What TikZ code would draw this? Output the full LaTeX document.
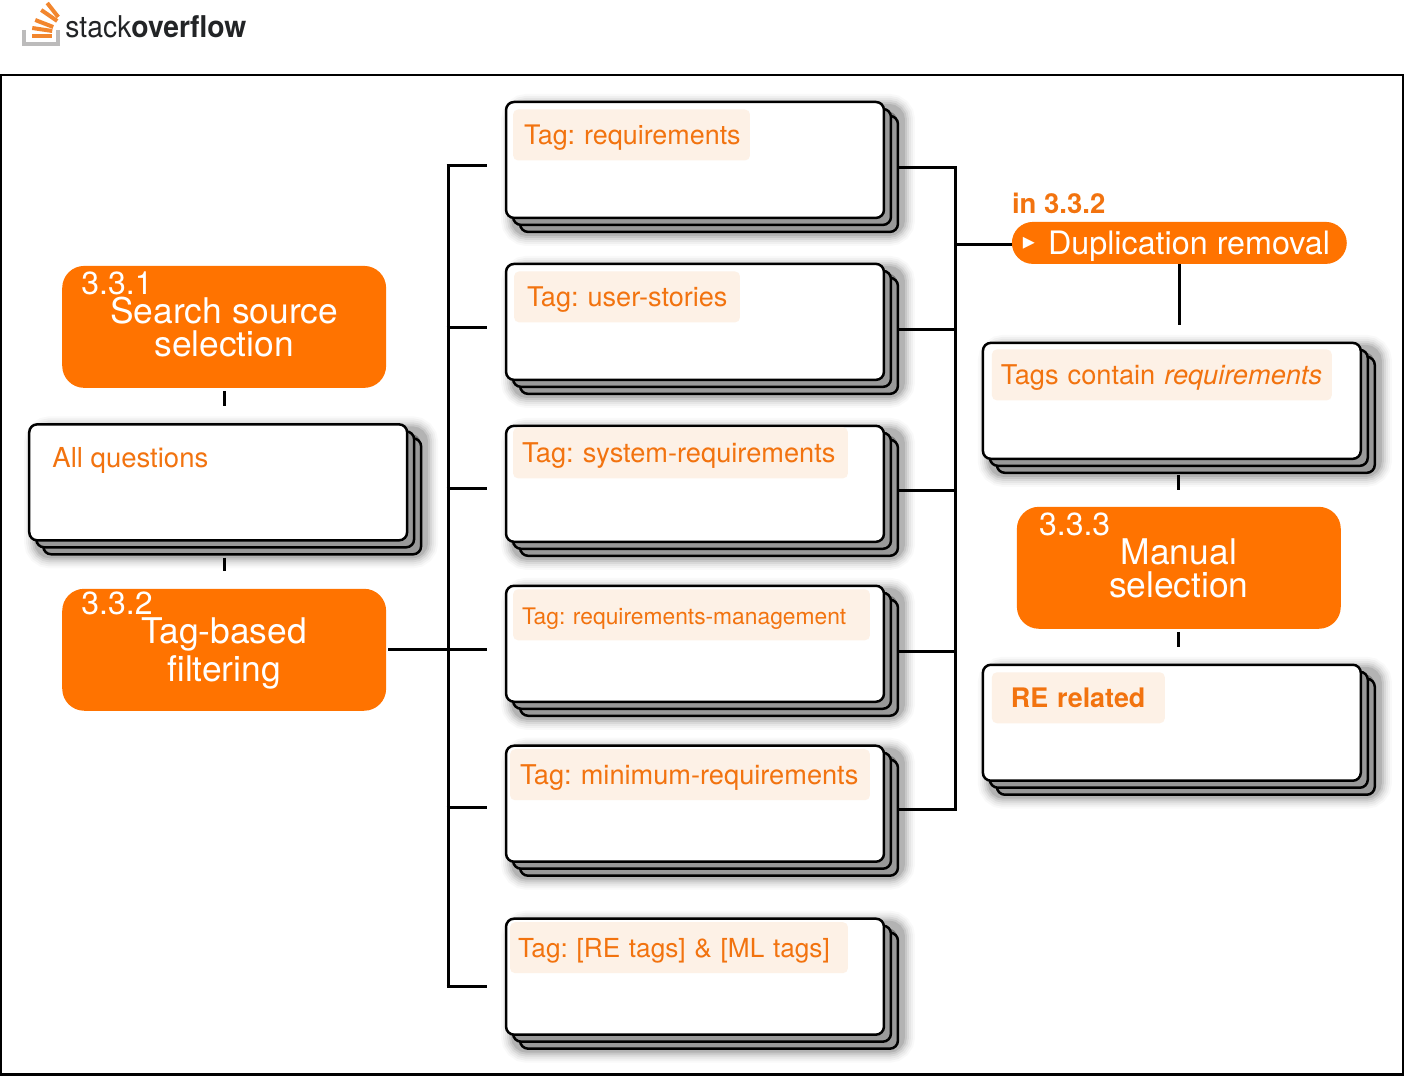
\documentclass[tikz,border=0pt]{standalone}
\usepackage{fontspec}
\setmainfont{TeX Gyre Heros}
\newfontfamily\symfont{DejaVu Sans}
\usetikzlibrary{shadows}
\definecolor{sofill}{HTML}{FF7300}
\definecolor{sotext}{HTML}{F2730F}
\definecolor{sopatch}{HTML}{FDF1E6}
\definecolor{sotray}{HTML}{BCBBBB}
\definecolor{sobar}{HTML}{F2862E}
\definecolor{sodark}{HTML}{222426}

\begin{document}
\frenchspacing
\begin{tikzpicture}[
        x=1pt, y=-1pt,
        link/.style={draw=black, line width=3pt},
        frame/.style={rectangle, draw=black, line width=2.5pt, minimum width=1402pt, minimum height=1000pt, inner sep=0pt},
        haze/.style 2 args={general shadow={fill=black, draw=black, line width=#1, opacity=#2, shadow xshift=13pt, shadow yshift=-10pt}},
        card/.style={rectangle, draw=black, line width=2.5pt, fill=white, rounded corners=8pt, minimum width=378pt, minimum height=116pt, inner sep=0pt,
            haze={36pt}{.025}, haze={32pt}{.035}, haze={28pt}{.045}, haze={24pt}{.06}, haze={20pt}{.08}, haze={16pt}{.1},
            general shadow={fill=black!40, draw=black, line width=2.5pt, shadow xshift=14pt, shadow yshift=-14pt},
            general shadow={fill=black!40, draw=black, line width=2.5pt, shadow xshift=7pt, shadow yshift=-7pt}},
        patch/.style={rectangle, fill=sopatch, rounded corners=5pt, text=sotext, text width=#1, minimum height=51pt, inner xsep=0pt, inner ysep=0pt, align=left, text height=24pt, text depth=4pt, font=\fontsize{27.2}{30}\selectfont},
        phase/.style={rectangle, fill=sofill, rounded corners=22pt, text=white, minimum width=324pt, minimum height=122pt, inner sep=0pt, align=center, text depth=0pt, font=\fontsize{35.4}{33}\selectfont},
        phasenum/.style={text=white, inner sep=0pt, anchor=west, font=\fontsize{32}{32}\selectfont},
        pill/.style={rectangle, fill=sofill, rounded corners=21pt, text=white, minimum width=335pt, minimum height=42pt, inner sep=0pt},
        barline/.style={draw=sobar, line width=4pt}
    ]

    % Outer frame
    \node[frame] (outer) at (702,575) {};

    % Logo
    \draw[draw=sotray, line width=4pt] (24,30) -- (24,44) -- (58,44) -- (58,30);
    \draw[barline] (32,36) -- (52,36);
    \draw[barline] (32,28) -- (52,31);
    \draw[barline] (35,20) -- (53,27);
    \draw[barline] (41,10) -- (57,21);
    \draw[barline] (47,3) -- (58,17);
    \node[inner sep=0pt, anchor=west, text=sodark, xscale=.943, font=\fontsize{30}{30}\selectfont] (logo) at (65,27) {stack\textbf{overflow}};

    % Left column
    \node[phase] (source) at (224,327) {Search source\\selection};
    \node[phasenum] (num331) at (81,283) {3.3.1};
    \node[card] (allq) at (218,482.5) {};
    \node[inner sep=0pt, anchor=west, text=sotext, font=\fontsize{27.5}{30}\selectfont] (allqlbl) at (52,461) {All questions};
    \node[phase] (filter) at (224,650) {Tag-based\\[4pt]filtering};
    \node[phasenum] (num332) at (81,604) {3.3.2};

    % Tag cards
    \node[card] (tagreq) at (695,160) {};
    \node[patch=237pt, font=\fontsize{26.9}{30}\selectfont] (lblreq) at (631.5,135) {\hspace*{11pt}Tag: requirements};
    \node[card] (tagstory) at (695,322) {};
    \node[patch=226pt, font=\fontsize{27.1}{30}\selectfont] (lblstory) at (627,297) {\hspace*{13pt}Tag: user-stories};
    \node[card] (tagsys) at (695,484) {};
    \node[patch=335pt] (lblsys) at (680.5,453) {\hspace*{9pt}Tag: system-requirements};
    \node[card] (tagmgmt) at (695,644) {};
    \node[patch=357pt, font=\fontsize{22.8}{26}\selectfont] (lblmgmt) at (691.5,615) {\hspace*{9pt}Tag: requirements-management};
    \node[card] (tagmin) at (695,804) {};
    \node[patch=360pt] (lblmin) at (690,775) {\hspace*{10pt}Tag: minimum-requirements};
    \node[card] (tagml) at (695,977) {};
    \node[patch=338pt, font=\fontsize{26.2}{30}\selectfont] (lblml) at (679,948) {\hspace*{8pt}Tag: [RE tags] \& [ML tags]};

    % Right column
    \node[pill] (dedup) at (1179.5,243) {};
    \node[text=white, inner sep=0pt, font=\symfont\fontsize{24}{24}\selectfont] (dedupmark) at (1029,243) {▸};
    \node[text=white, inner sep=0pt, anchor=west, font=\fontsize{32.3}{33}\selectfont] (deduplbl) at (1048,246) {Duplication removal};
    \node[inner sep=0pt, anchor=west, text=sotext, font=\bfseries\fontsize{27.5}{30}\selectfont] (in332) at (1012,203) {in 3.3.2};
    \node[card] (contain) at (1172,401) {};
    \node[patch=340pt] (lblcontain) at (1162,375) {\hspace*{9pt}Tags contain \textit{requirements}};
    \node[phase] (manual) at (1179,568) {Manual\\selection};
    \node[phasenum] (num333) at (1039,525) {3.3.3};
    \node[card] (related) at (1172,723) {};
    \node[patch=173pt, font=\bfseries\fontsize{26.9}{30}\selectfont] (lblrelated) at (1078.5,698) {\hspace*{19pt}RE related};

    % Relationships
    \coordinate (busltop) at (448,166);
    \coordinate (buslbot) at (448,987);
    \coordinate (busrtop) at (956,168);
    \coordinate (busrbot) at (956,810);
    \draw[link] (busltop) -- (buslbot);
    \draw[link] (busrtop) -- (busrbot);
    \draw[link, shorten <=2pt, shorten >=18pt] (filter.east) -- (tagmgmt.west |- filter.east);
    \foreach \name/\dy in {tagreq/6, tagstory/6, tagsys/5, tagmin/4, tagml/10}
        \draw[link, shorten >=18pt, shorten <=-1.5pt] ([yshift=-\dy pt]\name.west -| busltop) -- ([yshift=-\dy pt]\name.west);
    \foreach \name/\dy in {tagreq/8, tagstory/8, tagsys/7, tagmgmt/8, tagmin/6}
        \draw[link, shorten <=13pt, shorten >=-1.5pt] ([yshift=-\dy pt]\name.east) -- ([yshift=-\dy pt]\name.east -| busrtop);
    \draw[link] ([yshift=-2pt]dedup.west -| busrtop) -- ([yshift=-2pt]dedup.west);
    \draw[link, shorten <=3pt, shorten >=17pt] (source.south) -- (source.south |- allq.north);
    \draw[link, shorten <=16pt, shorten >=18pt] (source.south |- allq.south) -- (filter.north);
    \draw[link, shorten >=17pt] (dedup.south) -- (dedup.south |- contain.north);
    \draw[link, shorten <=15pt, shorten >=17pt] (manual.north |- contain.south) -- (manual.north);
    \draw[link, shorten <=3pt, shorten >=17pt] (manual.south) -- (manual.south |- related.north);

    % Margins of the page
    \path[use as bounding box] (0,0) rectangle (1404,1076);
\end{tikzpicture}
\end{document}
